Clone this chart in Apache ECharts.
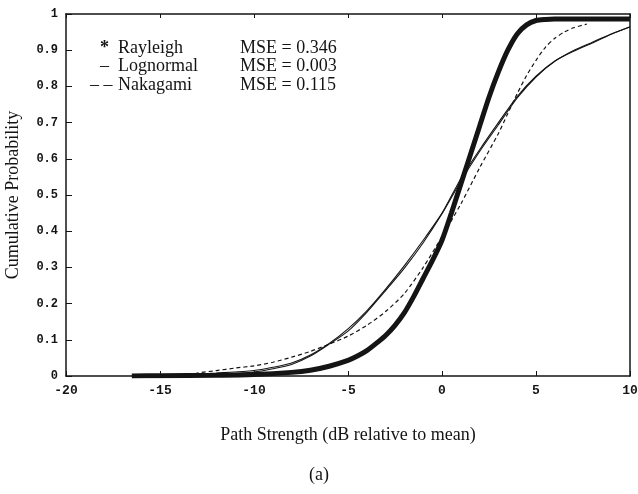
<!DOCTYPE html>
<html>
<head>
<meta charset="utf-8">
<script src="https://cdn.jsdelivr.net/npm/echarts@6/dist/echarts.min.js"></script>
<style>
  html, body { margin: 0; padding: 0; background: #fff; }
  #chart { width: 638px; height: 494px; }
</style>
</head>
<body>
<div id="chart"></div>
<script>
// values
const xTicks = [-20, -15, -10, -5, 0, 5, 10]
const yTicks = [0, 0.1, 0.2, 0.3, 0.4, 0.5, 0.6, 0.7, 0.8, 0.9, 1]

const rayleighX = [-16.5, -15, -12, -10, -8, -7, -6, -5, -4.5, -4, -3.5, -3, -2.5, -2, -1.5, -1, -0.5, 0, 0.5, 1, 1.5, 2, 2.5, 3, 3.5, 4, 4.5, 5, 5.5, 6, 8, 10]
const rayleighY = [0, 0.001, 0.002, 0.004, 0.01, 0.016, 0.027, 0.043, 0.055, 0.07, 0.09, 0.112, 0.14, 0.175, 0.22, 0.27, 0.32, 0.375, 0.45, 0.53, 0.61, 0.69, 0.77, 0.84, 0.9, 0.945, 0.97, 0.982, 0.985, 0.986, 0.986, 0.986]

const lognormalX = [-14, -12, -10, -9, -8, -7, -6, -5, -4, -3, -2, -1, 0, 1, 2, 3, 4, 5, 6, 7, 8, 9, 10]
const lognormalY = [0.002, 0.008, 0.015, 0.024, 0.036, 0.058, 0.09, 0.13, 0.18, 0.24, 0.305, 0.375, 0.45, 0.545, 0.625, 0.7, 0.772, 0.828, 0.87, 0.897, 0.92, 0.944, 0.965]

const measuredX = [-16.5, -14, -12, -10, -9, -8, -7, -6, -5, -4, -3, -2, -1, 0, 1, 2, 3, 4, 5, 6, 7, 8, 9, 10]
const measuredY = [0, 0.001, 0.004, 0.011, 0.02, 0.032, 0.055, 0.088, 0.124, 0.176, 0.236, 0.298, 0.368, 0.448, 0.538, 0.62, 0.694, 0.768, 0.826, 0.869, 0.899, 0.922, 0.945, 0.964]

const nakagamiX = [-13.5, -13, -12, -11, -10, -9, -8, -7, -6, -5, -4, -3, -2, -1, 0, 1, 2, 3, 3.5, 4, 4.5, 5, 5.5, 6, 6.5, 7, 7.7]
const nakagamiY = [0, 0.008, 0.015, 0.022, 0.028, 0.038, 0.052, 0.068, 0.088, 0.11, 0.14, 0.178, 0.228, 0.3, 0.385, 0.475, 0.575, 0.67, 0.725, 0.78, 0.83, 0.872, 0.908, 0.933, 0.95, 0.962, 0.972]

const legendNames = ['Rayleigh', 'Lognormal', 'Nakagami']
const legendMarks = ['*', '–', '– –']
const legendMse = ['0.346', '0.003', '0.115']

const pairs = (xs, ys) => xs.map((x, i) => [x, ys[i]])

const ink = '#141414'
const serif = '"Liberation Serif", "DejaVu Serif", serif'
const mono = '"Liberation Mono", "DejaVu Sans Mono", monospace'

let chart = echarts.init(document.getElementById('chart'))

let legendGraphics = []
legendNames.forEach((name, i) => {
	let y = 48 + i * 18.5
	legendGraphics.push({ type: 'text', left: legendMarks[i].length > 1 ? 90 : 100, top: y - 9,
		style: { text: legendMarks[i], font: (i === 0 ? 'bold ' : '') + '18px ' + serif, fill: ink } })
	legendGraphics.push({ type: 'text', left: 118, top: y - 9,
		style: { text: name, font: '18px ' + serif, fill: ink } })
	legendGraphics.push({ type: 'text', left: 240, top: y - 9,
		style: { text: 'MSE = ' + legendMse[i], font: '18px ' + serif, fill: ink } })
})
legendGraphics.push({ type: 'text', left: 'center', top: 466, style: { text: '(a)', font: '18px ' + serif, fill: ink } })

const lineDefaults = { type: 'line', showSymbol: false, symbol: 'none', animation: false, silent: true, smooth: 0.25 }

chart.setOption({
	backgroundColor: '#fff',
	animation: false,
	grid: { left: 66, right: 8, top: 14, bottom: 118, outerBoundsMode: 'none' },
	xAxis: [{
		type: 'value',
		min: xTicks[0], max: xTicks[xTicks.length - 1], interval: 5,
		name: 'Path Strength (dB relative to mean)',
		nameLocation: 'middle', nameGap: 50,
		nameTextStyle: { fontFamily: serif, fontSize: 18, color: ink },
		axisLine: { onZero: false, lineStyle: { color: ink, width: 1.5 } },
		axisTick: { inside: true, length: 5, lineStyle: { color: ink } },
		axisLabel: { fontFamily: mono, fontWeight: 'bold', fontSize: 13, color: ink, margin: 8,
			formatter: v => (v < 0 ? '-' + Math.abs(v) : String(v)) },
		splitLine: { show: false }
	}, {
		type: 'value', position: 'top',
		min: xTicks[0], max: xTicks[xTicks.length - 1], interval: 5,
		axisLine: { onZero: false, lineStyle: { color: ink, width: 1.5 } },
		axisTick: { inside: true, length: 4, lineStyle: { color: ink } },
		axisLabel: { show: false },
		splitLine: { show: false }
	}],
	yAxis: [{
		type: 'value', position: 'left',
		min: yTicks[0], max: yTicks[yTicks.length - 1], interval: 0.1,
		name: 'Cumulative Probability',
		nameLocation: 'middle', nameGap: 44,
		nameTextStyle: { fontFamily: serif, fontSize: 18, color: ink },
		axisLine: { show: true, onZero: false, lineStyle: { color: ink, width: 1.5 } },
		axisTick: { show: true, inside: true, length: 6, lineStyle: { color: ink } },
		axisLabel: { fontFamily: mono, fontWeight: 'bold', fontSize: 12, color: ink, margin: 8,
			formatter: v => (v === 0 || v === 1 ? String(v) : v.toFixed(1)) },
		splitLine: { show: false }
	}, {
		type: 'value', position: 'right',
		min: 0, max: 1, interval: 0.1,
		axisLine: { show: true, onZero: false, lineStyle: { color: ink, width: 1.5 } },
		axisTick: { show: false },
		axisLabel: { show: false },
		splitLine: { show: false }
	}],
	graphic: legendGraphics,
	series: [
		Object.assign({}, lineDefaults, { name: 'Measured', data: pairs(measuredX, measuredY),
			lineStyle: { color: ink, width: 1.1 } }),
		Object.assign({}, lineDefaults, { name: 'Lognormal', data: pairs(lognormalX, lognormalY),
			lineStyle: { color: ink, width: 1.1 } }),
		Object.assign({}, lineDefaults, { name: 'Nakagami', data: pairs(nakagamiX, nakagamiY),
			lineStyle: { color: ink, width: 1.2, type: [4, 3] } }),
		Object.assign({}, lineDefaults, { name: 'Rayleigh', data: pairs(rayleighX, rayleighY),
			lineStyle: { color: ink, width: 5 } })
	]
})
</script>
</body>
</html>
